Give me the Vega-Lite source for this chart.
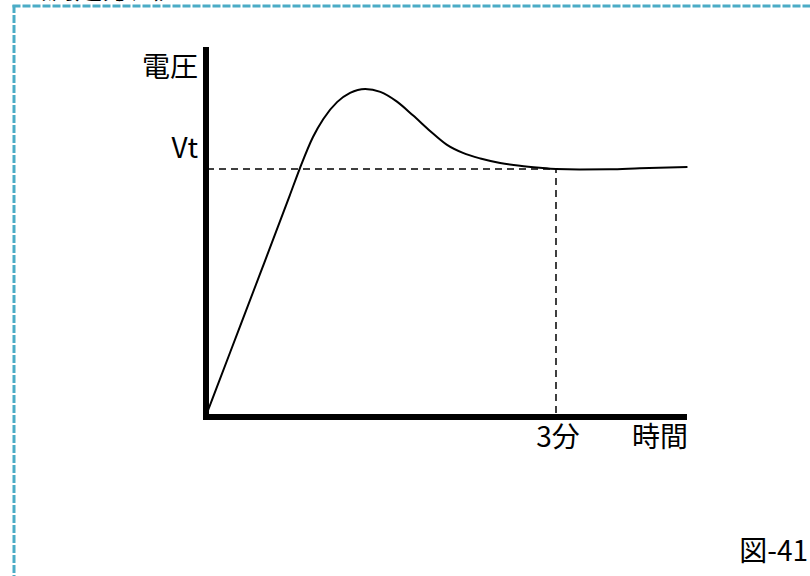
{
  "$schema": "https://vega.github.io/schema/vega-lite/v6.json",
  "width": 810,
  "height": 576,
  "padding": 0,
  "autosize": {"type": "none"},
  "background": "white",
  "config": {"view": {"stroke": null}},
  "datasets": {
    "curve": [
      {"t": 0, "v": 0}, {"t": 0.2, "v": 0.25}, {"t": 0.46, "v": 0.575}, {"t": 0.71, "v": 0.89},
      {"t": 0.8, "v": 1.005}, {"t": 0.91, "v": 1.13}, {"t": 1.0, "v": 1.205}, {"t": 1.12, "v": 1.275},
      {"t": 1.23, "v": 1.312}, {"t": 1.36, "v": 1.328}, {"t": 1.49, "v": 1.316}, {"t": 1.63, "v": 1.277},
      {"t": 1.77, "v": 1.22}, {"t": 1.92, "v": 1.155}, {"t": 2.06, "v": 1.1}, {"t": 2.2, "v": 1.066},
      {"t": 2.35, "v": 1.043}, {"t": 2.52, "v": 1.025}, {"t": 2.69, "v": 1.013}, {"t": 2.86, "v": 1.005},
      {"t": 3.0, "v": 1.0}, {"t": 3.2, "v": 0.998}, {"t": 3.46, "v": 0.999}, {"t": 3.72, "v": 1.003},
      {"t": 4.13, "v": 1.008}
    ],
    "axes": [
      {"name": "y軸", "t": -0.0086, "t2": -0.0086, "v": -0.0287, "v2": 1.5},
      {"name": "x軸", "t": -0.0344, "t2": 4.126, "v": -0.0164, "v2": -0.0164}
    ],
    "guides": [
      {"name": "Vt", "t": 0, "t2": 3, "v": 1, "v2": 1},
      {"name": "3分", "t": 3, "t2": 3, "v": 0, "v2": 1}
    ],
    "frame": [
      {"name": "left", "t": -1.659, "t2": -1.659, "v": 1.672, "v2": -0.75},
      {"name": "top", "t": -1.672, "t2": 5.3, "v": 1.668, "v2": 1.668}
    ],
    "labelsRight": [
      {"label": "電圧", "t": -0.077, "v": 1.41},
      {"label": "Vt", "t": -0.077, "v": 1.078},
      {"label": "時間", "t": 4.135, "v": -0.107},
      {"label": "図-41", "t": 5.166, "v": -0.574}
    ],
    "labelsCenter": [
      {"label": "3分", "t": 3.017, "v": -0.107}
    ],
    "topText": [
      {"label": "（測定方法）", "t": -1.62, "v": 1.6721}
    ]
  },
  "layer": [
    {
      "data": {"name": "topText"},
      "mark": {"type": "text", "align": "left", "baseline": "bottom", "font": "Noto Sans CJK JP", "fontSize": 28, "color": "black"},
      "encoding": {
        "x": {"field": "t", "type": "quantitative", "scale": {"domain": [-1.7794, 5.1834], "nice": false, "zero": false}, "axis": null},
        "y": {"field": "v", "type": "quantitative", "scale": {"domain": [-0.66803, 1.69262], "nice": false, "zero": false}, "axis": null},
        "text": {"field": "label"}
      }
    },
    {
      "data": {"name": "frame"},
      "mark": {"type": "rule", "color": "#4bacc6", "strokeWidth": 3, "strokeDash": [8, 2]},
      "encoding": {
        "x": {"field": "t", "type": "quantitative"},
        "x2": {"field": "t2"},
        "y": {"field": "v", "type": "quantitative"},
        "y2": {"field": "v2"}
      }
    },
    {
      "data": {"name": "guides"},
      "mark": {"type": "rule", "color": "black", "strokeWidth": 1.5, "strokeDash": [7, 5]},
      "encoding": {
        "x": {"field": "t", "type": "quantitative"},
        "x2": {"field": "t2"},
        "y": {"field": "v", "type": "quantitative"},
        "y2": {"field": "v2"}
      }
    },
    {
      "data": {"name": "curve"},
      "mark": {"type": "line", "color": "black", "strokeWidth": 2, "interpolate": "monotone"},
      "encoding": {
        "x": {"field": "t", "type": "quantitative"},
        "y": {"field": "v", "type": "quantitative"}
      }
    },
    {
      "data": {"name": "axes"},
      "mark": {"type": "rule", "color": "black", "strokeWidth": 6},
      "encoding": {
        "x": {"field": "t", "type": "quantitative"},
        "x2": {"field": "t2"},
        "y": {"field": "v", "type": "quantitative"},
        "y2": {"field": "v2"}
      }
    },
    {
      "data": {"name": "labelsRight"},
      "mark": {"type": "text", "align": "right", "baseline": "middle", "font": "Noto Sans CJK JP", "fontSize": 28, "color": "black"},
      "encoding": {
        "x": {"field": "t", "type": "quantitative"},
        "y": {"field": "v", "type": "quantitative"},
        "text": {"field": "label"}
      }
    },
    {
      "data": {"name": "labelsCenter"},
      "mark": {"type": "text", "align": "center", "baseline": "middle", "font": "Noto Sans CJK JP", "fontSize": 28, "color": "black"},
      "encoding": {
        "x": {"field": "t", "type": "quantitative"},
        "y": {"field": "v", "type": "quantitative"},
        "text": {"field": "label"}
      }
    }
  ]
}
